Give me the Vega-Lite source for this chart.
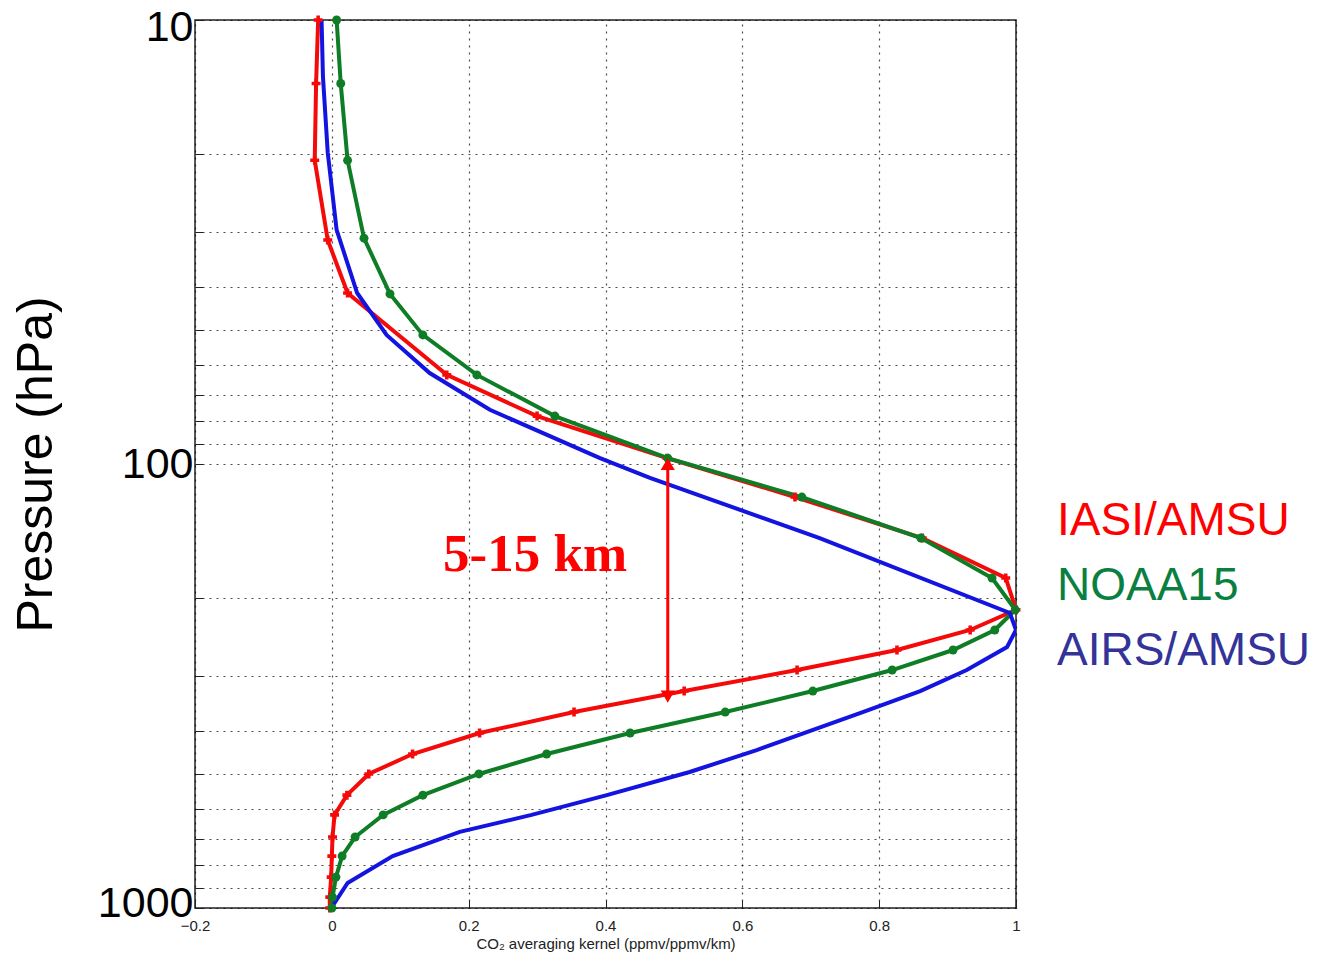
{
  "$schema": "https://vega.github.io/schema/vega-lite/v6.json",
  "autosize": {"type": "none"},
  "padding": {"left": 195, "top": 20, "right": 312, "bottom": 45},
  "width": 821,
  "height": 888,
  "background": "white",
  "config": {
    "view": {"stroke": "#222", "strokeWidth": 1.5},
    "font": "Liberation Sans"
  },
  "datasets": {
    "curves": [
      {"series": "IASI/AMSU", "k": -0.020, "p": 10},
      {"series": "IASI/AMSU", "k": -0.023, "p": 13.9},
      {"series": "IASI/AMSU", "k": -0.025, "p": 20.7},
      {"series": "IASI/AMSU", "k": -0.006, "p": 31.3},
      {"series": "IASI/AMSU", "k": 0.023, "p": 41.2},
      {"series": "IASI/AMSU", "k": 0.168, "p": 63.0},
      {"series": "IASI/AMSU", "k": 0.300, "p": 78.0},
      {"series": "IASI/AMSU", "k": 0.490, "p": 97.0},
      {"series": "IASI/AMSU", "k": 0.677, "p": 118.7},
      {"series": "IASI/AMSU", "k": 0.863, "p": 146.8},
      {"series": "IASI/AMSU", "k": 0.985, "p": 180.6},
      {"series": "IASI/AMSU", "k": 1.000, "p": 213},
      {"series": "IASI/AMSU", "k": 0.933, "p": 236.5},
      {"series": "IASI/AMSU", "k": 0.826, "p": 262.4},
      {"series": "IASI/AMSU", "k": 0.680, "p": 291.1},
      {"series": "IASI/AMSU", "k": 0.515, "p": 324.6},
      {"series": "IASI/AMSU", "k": 0.354, "p": 362.0},
      {"series": "IASI/AMSU", "k": 0.216, "p": 403.5},
      {"series": "IASI/AMSU", "k": 0.118, "p": 450},
      {"series": "IASI/AMSU", "k": 0.054, "p": 499},
      {"series": "IASI/AMSU", "k": 0.022, "p": 557},
      {"series": "IASI/AMSU", "k": 0.004, "p": 617},
      {"series": "IASI/AMSU", "k": 0.001, "p": 692},
      {"series": "IASI/AMSU", "k": 0.000, "p": 764},
      {"series": "IASI/AMSU", "k": -0.001, "p": 852},
      {"series": "IASI/AMSU", "k": -0.003, "p": 945},
      {"series": "IASI/AMSU", "k": -0.003, "p": 1000},
      {"series": "NOAA15", "k": 0.007, "p": 10},
      {"series": "NOAA15", "k": 0.013, "p": 13.9},
      {"series": "NOAA15", "k": 0.023, "p": 20.7},
      {"series": "NOAA15", "k": 0.047, "p": 31.0},
      {"series": "NOAA15", "k": 0.085, "p": 41.4},
      {"series": "NOAA15", "k": 0.133, "p": 51.2},
      {"series": "NOAA15", "k": 0.212, "p": 63.0},
      {"series": "NOAA15", "k": 0.326, "p": 78.0},
      {"series": "NOAA15", "k": 0.491, "p": 97.0},
      {"series": "NOAA15", "k": 0.687, "p": 118.7},
      {"series": "NOAA15", "k": 0.861, "p": 146.8},
      {"series": "NOAA15", "k": 0.965, "p": 180.6},
      {"series": "NOAA15", "k": 0.999, "p": 213},
      {"series": "NOAA15", "k": 0.969, "p": 236.5},
      {"series": "NOAA15", "k": 0.908, "p": 262.4},
      {"series": "NOAA15", "k": 0.819, "p": 291.1},
      {"series": "NOAA15", "k": 0.703, "p": 324.6},
      {"series": "NOAA15", "k": 0.575, "p": 362.0},
      {"series": "NOAA15", "k": 0.436, "p": 403.5},
      {"series": "NOAA15", "k": 0.314, "p": 450},
      {"series": "NOAA15", "k": 0.215, "p": 499},
      {"series": "NOAA15", "k": 0.133, "p": 557},
      {"series": "NOAA15", "k": 0.075, "p": 617},
      {"series": "NOAA15", "k": 0.034, "p": 692},
      {"series": "NOAA15", "k": 0.015, "p": 764},
      {"series": "NOAA15", "k": 0.006, "p": 852},
      {"series": "NOAA15", "k": 0.001, "p": 945},
      {"series": "NOAA15", "k": 0.000, "p": 1000},
      {"series": "AIRS/AMSU", "k": -0.015, "p": 10},
      {"series": "AIRS/AMSU", "k": -0.013, "p": 13.4},
      {"series": "AIRS/AMSU", "k": -0.006, "p": 19.9},
      {"series": "AIRS/AMSU", "k": 0.007, "p": 29.7},
      {"series": "AIRS/AMSU", "k": 0.037, "p": 41.2},
      {"series": "AIRS/AMSU", "k": 0.080, "p": 51.2},
      {"series": "AIRS/AMSU", "k": 0.143, "p": 62.4},
      {"series": "AIRS/AMSU", "k": 0.231, "p": 75.5},
      {"series": "AIRS/AMSU", "k": 0.392, "p": 97.0},
      {"series": "AIRS/AMSU", "k": 0.465, "p": 107.5},
      {"series": "AIRS/AMSU", "k": 0.713, "p": 146.8},
      {"series": "AIRS/AMSU", "k": 0.991, "p": 216.5},
      {"series": "AIRS/AMSU", "k": 1.000, "p": 236.5},
      {"series": "AIRS/AMSU", "k": 0.987, "p": 258.3},
      {"series": "AIRS/AMSU", "k": 0.928, "p": 291.1},
      {"series": "AIRS/AMSU", "k": 0.860, "p": 324.6},
      {"series": "AIRS/AMSU", "k": 0.776, "p": 362.0},
      {"series": "AIRS/AMSU", "k": 0.621, "p": 440.8},
      {"series": "AIRS/AMSU", "k": 0.523, "p": 494},
      {"series": "AIRS/AMSU", "k": 0.402, "p": 557},
      {"series": "AIRS/AMSU", "k": 0.292, "p": 617},
      {"series": "AIRS/AMSU", "k": 0.187, "p": 674},
      {"series": "AIRS/AMSU", "k": 0.089, "p": 764},
      {"series": "AIRS/AMSU", "k": 0.023, "p": 878},
      {"series": "AIRS/AMSU", "k": 0.004, "p": 974},
      {"series": "AIRS/AMSU", "k": 0.000, "p": 1000}
    ]
  },
  "layer": [
    {
      "data": {"name": "curves"},
      "mark": {"type": "line", "strokeWidth": 4, "clip": true},
      "encoding": {
        "x": {
          "field": "k", "type": "quantitative",
          "scale": {"domain": [-0.2, 1], "nice": false, "zero": false},
          "axis": {
            "values": [-0.2, 0, 0.2, 0.4, 0.6, 0.8, 1],
            "format": ".1~f",
            "title": "CO₂ averaging kernel (ppmv/ppmv/km)",
            "titleFontSize": 15, "titleFontWeight": "normal", "titleColor": "#222",
            "titlePadding": 3,
            "labelFontSize": 15, "labelColor": "#222", "labelPadding": 18,
            "labelFlush": false,
            "tickSize": -8, "tickColor": "#222", "domain": false,
            "grid": true, "gridDash": [2, 5], "gridColor": "#000", "gridOpacity": 0.7, "gridWidth": 1.2
          }
        },
        "y": {
          "field": "p", "type": "quantitative",
          "scale": {"type": "log", "domain": [10, 1000], "nice": false, "reverse": true},
          "axis": {
            "values": [10, 20, 30, 40, 50, 60, 70, 80, 90, 100, 200, 300, 400, 500, 600, 700, 800, 900, 1000],
            "format": "d",
            "labelExpr": "(datum.value == 10 || datum.value == 100 || datum.value == 1000) ? datum.label : ''",
            "title": "Pressure (hPa)",
            "titleFontSize": 50, "titleFontWeight": "normal", "titleColor": "#000",
            "titlePadding": 36,
            "labelFontSize": 43, "labelColor": "#000", "labelPadding": 10,
            "labelOffset": {"condition": [{"test": "datum.value == 10", "value": 7}, {"test": "datum.value == 1000", "value": -5}], "value": 0},
            "labelOverlap": false,
            "labelFlush": false,
            "tickSize": -8, "tickColor": "#222", "domain": false,
            "grid": true, "gridDash": [2, 5], "gridColor": "#000", "gridOpacity": 0.7, "gridWidth": 1.2
          }
        },
        "order": {"field": "p", "type": "quantitative"},
        "color": {
          "field": "series", "type": "nominal",
          "scale": {"domain": ["IASI/AMSU", "NOAA15", "AIRS/AMSU"], "range": ["#f50a0a", "#0f7d26", "#1414e0"]},
          "legend": {
            "title": null,
            "orient": "none",
            "legendX": 816,
            "legendY": 478,
            "symbolSize": 0,
            "symbolStrokeWidth": 0,
            "symbolOpacity": 0,
            "labelFontSize": 46,
            "labelFont": "Liberation Sans",
            "labelLimit": 400,
            "rowPadding": 19,
            "labelOffset": 0,
            "encode": {
              "labels": {
                "update": {
                  "fill": {"signal": "datum.value === 'IASI/AMSU' ? '#ff0000' : datum.value === 'NOAA15' ? '#0a8040' : '#333399'"}
                }
              }
            }
          }
        }
      }
    },
    {
      "data": {"name": "curves"},
      "transform": [{"filter": "datum.series === 'IASI/AMSU'"}],
      "mark": {"type": "point", "shape": "cross", "filled": true, "size": 80, "color": "#f50a0a", "opacity": 1},
      "encoding": {
        "x": {"field": "k", "type": "quantitative"},
        "y": {"field": "p", "type": "quantitative"}
      }
    },
    {
      "data": {"name": "curves"},
      "transform": [{"filter": "datum.series === 'NOAA15'"}],
      "mark": {"type": "point", "shape": "circle", "filled": true, "size": 80, "color": "#0f7d26", "opacity": 1},
      "encoding": {
        "x": {"field": "k", "type": "quantitative"},
        "y": {"field": "p", "type": "quantitative"}
      }
    },
    {
      "data": {"values": [{"k": 0.491, "p1": 99, "p2": 338}]},
      "mark": {"type": "rule", "color": "#ff0000", "strokeWidth": 3},
      "encoding": {
        "x": {"field": "k", "type": "quantitative"},
        "y": {"field": "p1", "type": "quantitative"},
        "y2": {"field": "p2"}
      }
    },
    {
      "data": {"values": [{"k": 0.491, "p": 100, "dir": "triangle-up"}, {"k": 0.491, "p": 334, "dir": "triangle-down"}]},
      "mark": {"type": "point", "filled": true, "size": 200, "color": "#ff0000", "opacity": 1},
      "encoding": {
        "x": {"field": "k", "type": "quantitative"},
        "y": {"field": "p", "type": "quantitative"},
        "shape": {"field": "dir", "type": "nominal", "scale": {"domain": ["triangle-up", "triangle-down"], "range": ["triangle-up", "triangle-down"]}, "legend": null}
      }
    },
    {
      "data": {"values": [{"k": 0.297, "p": 160, "label": "5-15 km"}]},
      "mark": {"type": "text", "font": "Liberation Serif", "fontWeight": "bold", "fontSize": 53, "color": "#ff0000", "align": "center", "baseline": "middle"},
      "encoding": {
        "x": {"field": "k", "type": "quantitative"},
        "y": {"field": "p", "type": "quantitative"},
        "text": {"field": "label"}
      }
    }
  ]
}
